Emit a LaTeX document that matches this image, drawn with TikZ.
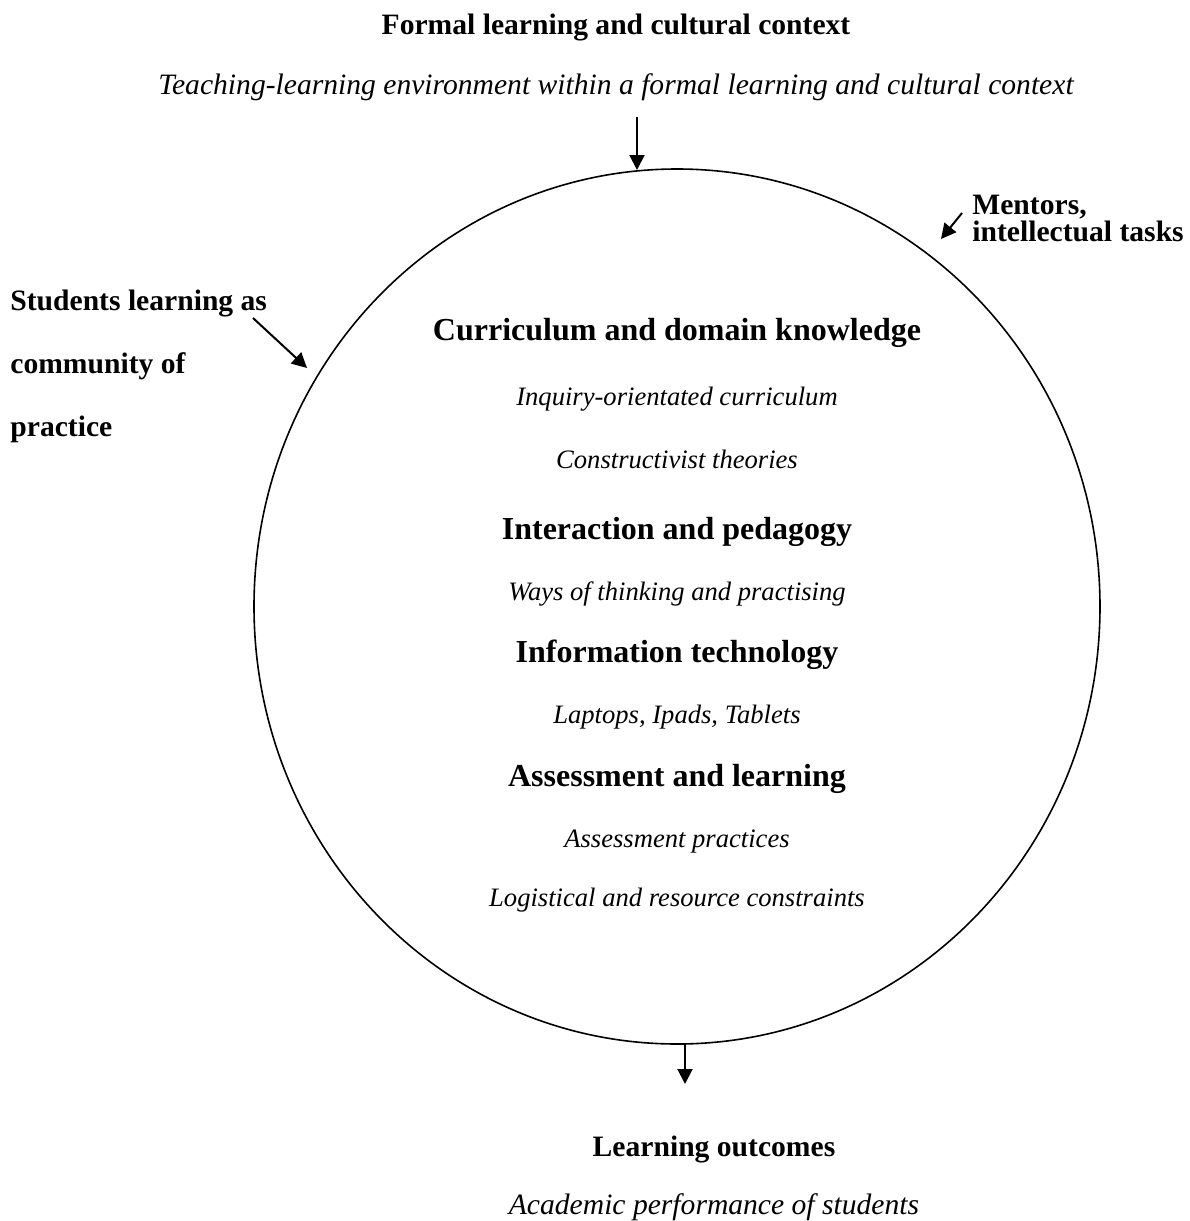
\documentclass[tikz,border=0pt]{standalone}
\usepackage{fontspec}
\setmainfont{Liberation Serif}
\usetikzlibrary{arrows.meta,shapes.geometric}
\begin{document}
\begin{tikzpicture}[x=0.5pt,y=-0.5pt,
  head/.style={font=\bfseries\fontsize{14.8}{16}\selectfont, inner sep=0pt, anchor=mid},
  big/.style={font=\bfseries\fontsize{16}{19}\selectfont, inner sep=0pt, anchor=mid},
  sub/.style={font=\itshape\fontsize{13.3}{15}\selectfont, inner sep=0pt, anchor=mid},
  outsub/.style={font=\itshape\fontsize{14.8}{16}\selectfont, inner sep=0pt, anchor=mid},
  side/.style={font=\bfseries\fontsize{14.8}{16}\selectfont, inner sep=0pt, anchor=base west},
  arr/.style={-{Triangle[length=7.5pt,width=7.5pt]}, line width=1pt}]
\useasboundingbox (0,0) rectangle (1189,1221);
\node[ellipse, draw, line width=0.8pt, minimum width=423pt, minimum height=437.5pt, inner sep=0pt] (circ) at (677,606.5) {};
% top
\node[head] (formal) at (616,30) {Formal learning and cultural context};
\node[outsub] (teach) at (616,90) {Teaching-learning environment within a formal learning and cultural context};
\coordinate (tA) at (637,117);
\coordinate (tB) at (637,170);
\draw[arr] (tA) -- (tB);
% mentors
\node[font=\bfseries\fontsize{14.8}{12.5}\selectfont, inner sep=0pt, align=left, anchor=north west] (ment) at (972,195) {Mentors,\\intellectual tasks};
\coordinate (mA) at (962,213);
\coordinate (mB) at (941,239);
\draw[arr] (mA) -- (mB);
% students
\node[side] (s1) at (10,310) {Students learning as};
\node[side] (s2) at (10,373) {community of};
\node[side] (s3) at (10,436) {practice};
\coordinate (sA) at (253,318);
\coordinate (sB) at (307,368);
\draw[arr] (sA) -- (sB);
% inside
\node[big] (cur) at (677,336) {Curriculum and domain knowledge};
\node[sub] (inq) at (677,401) {Inquiry-orientated curriculum};
\node[sub] (con) at (677,464) {Constructivist theories};
\node[big] (int) at (677,535) {Interaction and pedagogy};
\node[sub] (ways) at (677,596) {Ways of thinking and practising};
\node[big] (inf) at (677,658) {Information technology};
\node[sub] (lap) at (677,719) {Laptops, Ipads, Tablets};
\node[big] (ass) at (677,782) {Assessment and learning};
\node[sub] (asp) at (677,843) {Assessment practices};
\node[sub] (log) at (677,902) {Logistical and resource constraints};
% bottom
\coordinate (bA) at (685,1044);
\coordinate (bB) at (685,1084);
\draw[arr] (bA) -- (bB);
\node[head] (lo) at (714,1152) {Learning outcomes};
\node[outsub] (acad) at (714,1210) {Academic performance of students};
\end{tikzpicture}
\end{document}
